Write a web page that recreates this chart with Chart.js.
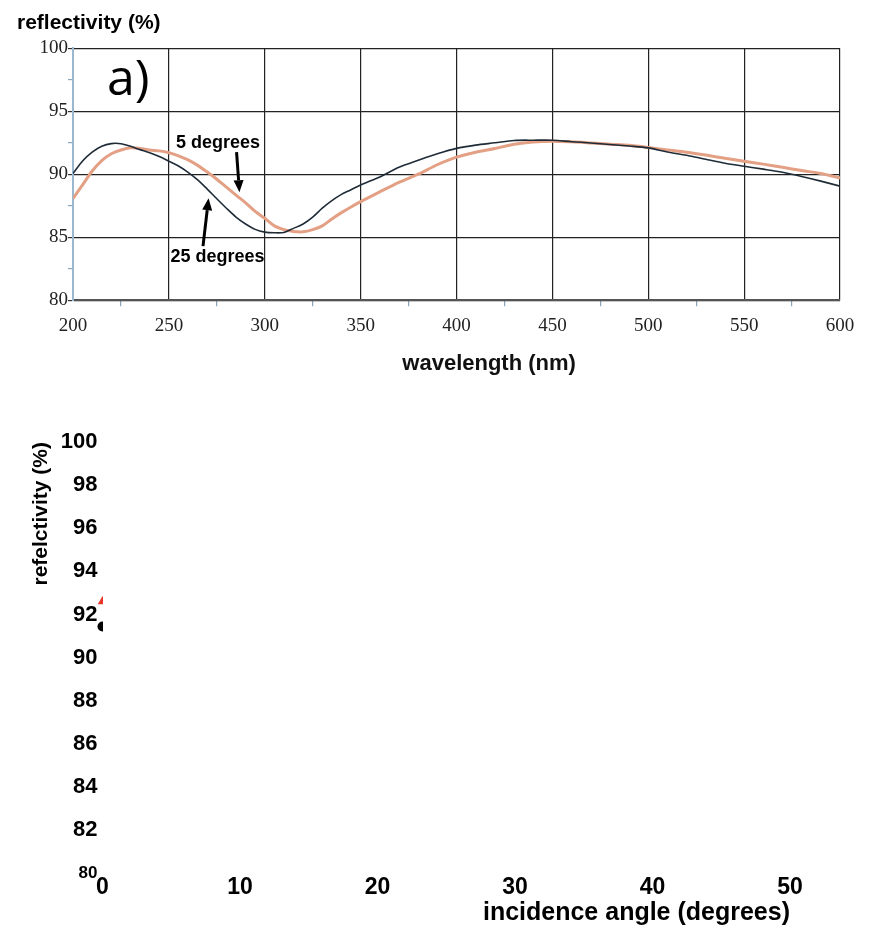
<!DOCTYPE html>
<html><head><meta charset="utf-8">
<script src="https://cdn.jsdelivr.net/npm/chart.js@4/dist/chart.umd.min.js"></script>
<style>
html,body{margin:0;padding:0;background:#fff;}
#wrap{position:relative;width:878px;height:944px;overflow:hidden;background:#fff;}
#c1{position:absolute;left:0;top:0;}
#c2{position:absolute;left:0;top:395px;}
</style></head><body>
<div id="wrap">
<canvas id="c1" width="878" height="395"></canvas>
<canvas id="c2" width="878" height="549"></canvas>
</div>
<script>
// ---- data: panel a) reflectivity vs wavelength ----
const wavelengths = [200,205,210,215,220,225,230,235,240,245,250,255,260,265,270,275,280,285,290,295,300,305,310,315,320,325,330,335,340,345,350,360,370,380,390,400,410,420,430,440,450,460,470,480,490,500,510,520,530,540,550,560,570,580,590,600];
const refl25deg = [90.05,91.05,91.75,92.22,92.43,92.42,92.21,91.95,91.70,91.40,91.03,90.65,90.15,89.55,88.82,88.05,87.30,86.60,86.05,85.62,85.40,85.35,85.38,85.70,86.05,86.60,87.30,87.90,88.40,88.77,89.15,89.78,90.55,91.10,91.62,92.05,92.31,92.49,92.68,92.70,92.70,92.58,92.48,92.36,92.24,92.09,91.76,91.50,91.18,90.87,90.63,90.40,90.15,89.82,89.45,89.05];
const refl5deg = [88.07,89.15,90.25,91.08,91.62,91.92,92.09,92.04,91.92,91.85,91.70,91.46,91.13,90.70,90.17,89.60,88.97,88.34,87.73,87.05,86.50,85.90,85.60,85.46,85.43,85.60,85.90,86.45,86.95,87.40,87.82,88.60,89.35,90.00,90.75,91.35,91.74,92.04,92.37,92.56,92.62,92.57,92.48,92.38,92.29,92.12,91.93,91.75,91.52,91.26,91.03,90.80,90.55,90.29,90.05,89.70];

// ---- data: lower panel reflectivity vs incidence angle ----
const incidenceAngles = [0];
const reflTriangle = [92.6];
const reflCircle = [91.45];

const annotPlugin = {
  id: 'annot',
  afterDatasetsDraw(chart, args, opts) {
    const {ctx, scales: {x, y}} = chart;
    ctx.save();
    (opts.texts || []).forEach(t => {
      ctx.font = t.font;
      ctx.fillStyle = t.color || '#000';
      ctx.textAlign = t.align || 'center';
      ctx.textBaseline = t.baseline || 'middle';
      ctx.fillText(t.text, x.getPixelForValue(t.x), y.getPixelForValue(t.y));
    });
    (opts.arrows || []).forEach(a => {
      const x0 = x.getPixelForValue(a.from[0]), y0 = y.getPixelForValue(a.from[1]);
      const x1 = x.getPixelForValue(a.to[0]), y1 = y.getPixelForValue(a.to[1]);
      const ang = Math.atan2(y1 - y0, x1 - x0);
      const hl = 12, hw = 5;
      const bx = x1 - hl * Math.cos(ang), by = y1 - hl * Math.sin(ang);
      ctx.strokeStyle = '#000'; ctx.lineWidth = 3;
      ctx.beginPath(); ctx.moveTo(x0, y0); ctx.lineTo(bx, by); ctx.stroke();
      ctx.fillStyle = '#000';
      ctx.beginPath(); ctx.moveTo(x1, y1);
      ctx.lineTo(bx + hw * Math.sin(ang), by - hw * Math.cos(ang));
      ctx.lineTo(bx - hw * Math.sin(ang), by + hw * Math.cos(ang));
      ctx.closePath(); ctx.fill();
    });
    ctx.restore();
  }
};

const sans = "'Liberation Sans', Arial, sans-serif";
const serif = "'Liberation Serif', 'Times New Roman', serif";

new Chart(document.getElementById('c1'), {
  type: 'line',
  data: {
    datasets: [
      {label: '25 degrees', data: wavelengths.map((w, i) => ({x: w, y: refl25deg[i]})),
       borderColor: '#1f2c38', borderWidth: 1.6, pointRadius: 0, tension: 0.3, fill: false},
      {label: '5 degrees', data: wavelengths.map((w, i) => ({x: w, y: refl5deg[i]})),
       borderColor: '#e3a084', borderWidth: 3, pointRadius: 0, tension: 0.3, fill: false}
    ]
  },
  options: {
    responsive: false, animation: false,
    layout: {padding: {left: 17, right: 38, top: 0, bottom: 50}},
    plugins: {
      legend: {display: false}, tooltip: {enabled: false},
      title: {display: true, text: 'reflectivity (%)', align: 'start', color: '#000',
              font: {family: sans, weight: 'bold', size: 21}, padding: {top: 11, bottom: 12}},
      annot: {
        texts: [
          {text: 'a)', x: 217.7, y: 96.27, font: "50px 'Open Sans', sans-serif", align: 'left', baseline: 'alphabetic'},
          {text: '5 degrees', x: 275.6, y: 92.46, font: "bold 18px " + sans},
          {text: '25 degrees', x: 275.4, y: 83.41, font: "bold 18px " + sans},
          {text: 'wavelength (nm)', x: 417, y: 74.92, font: "bold 22px " + sans, color: '#111'}
        ],
        arrows: [
          {from: [285.3, 91.75], to: [286.8, 88.57]},
          {from: [267.8, 84.29], to: [270.7, 88.1]}
        ]
      }
    },
    scales: {
      x: {
        type: 'linear', min: 200, max: 600,
        ticks: {stepSize: 25, autoSkip: false, maxRotation: 0, color: '#222',
                callback: v => (v % 50 === 0 ? String(v) : ''),
                font: {family: serif, size: 19}, padding: 8},
        grid: {color: c => (c.tick && c.tick.value % 50 === 0 ? '#222' : 'rgba(0,0,0,0)'), lineWidth: 1.2,
               tickLength: 6, tickColor: c => (c.tick && c.tick.value % 50 === 0 ? 'rgba(0,0,0,0)' : '#8aa6bd')},
        border: {color: '#555', width: 2}
      },
      y: {
        min: 80, max: 100,
        ticks: {stepSize: 2.5, autoSkip: false, color: '#222',
                callback: v => (v % 5 === 0 ? String(v) : ''),
                font: {family: serif, size: 19}, padding: 0},
        grid: {color: c => (c.tick && c.tick.value % 5 === 0 ? '#222' : 'rgba(0,0,0,0)'), lineWidth: 1.2,
               tickLength: 5, tickColor: c => (c.tick && c.tick.value % 5 === 0 ? '#333' : '#8aa6bd')},
        border: {color: '#9ab8cf', width: 2},
        afterFit(s) { s.width = 56; }
      }
    }
  },
  plugins: [annotPlugin]
});

new Chart(document.getElementById('c2'), {
  type: 'scatter',
  data: {
    datasets: [
      {label: 'triangle', data: incidenceAngles.map((a, i) => ({x: a, y: reflTriangle[i]})),
       pointStyle: 'triangle', pointRadius: 5.5, backgroundColor: '#e8372a', borderColor: '#e8372a', borderWidth: 0,
       clip: {left: 12, top: 12, bottom: 12, right: -687}},
      {label: 'circle', data: incidenceAngles.map((a, i) => ({x: a, y: reflCircle[i]})),
       pointStyle: 'circle', pointRadius: 5, backgroundColor: '#000', borderColor: '#000', borderWidth: 0,
       clip: {left: 12, top: 12, bottom: 12, right: -687}}
    ]
  },
  options: {
    responsive: false, animation: false,
    layout: {padding: {left: 29, right: 88, top: 47, bottom: 18}},
    plugins: {legend: {display: false}, tooltip: {enabled: false}},
    scales: {
      x: {
        type: 'linear', min: 0, max: 50,
        ticks: {stepSize: 10, color: '#000', maxRotation: 0, padding: 0,
                font: {family: sans, weight: 'bold', size: 23}},
        grid: {display: false, drawTicks: false}, border: {display: false},
        title: {display: true, text: 'incidence angle (degrees)', align: 'end', color: '#000',
                font: {family: sans, weight: 'bold', size: 25, lineHeight: 1}, padding: {top: 0, bottom: 0}}
      },
      y: {
        min: 80, max: 100,
        ticks: {stepSize: 2, color: '#000', padding: 5,
                font: c => ({family: sans, weight: 'bold', size: (c.tick && c.tick.value === 80) ? 17 : 22})},
        grid: {display: false, drawTicks: false}, border: {display: false},
        title: {display: true, text: 'refelctivity (%)', align: 'end', color: '#000',
                font: {family: sans, weight: 'bold', size: 21}, padding: {top: 0, bottom: 0}},
        afterFit(s) { s.width = 73.5; }
      }
    }
  }
});
</script>
</body></html>
